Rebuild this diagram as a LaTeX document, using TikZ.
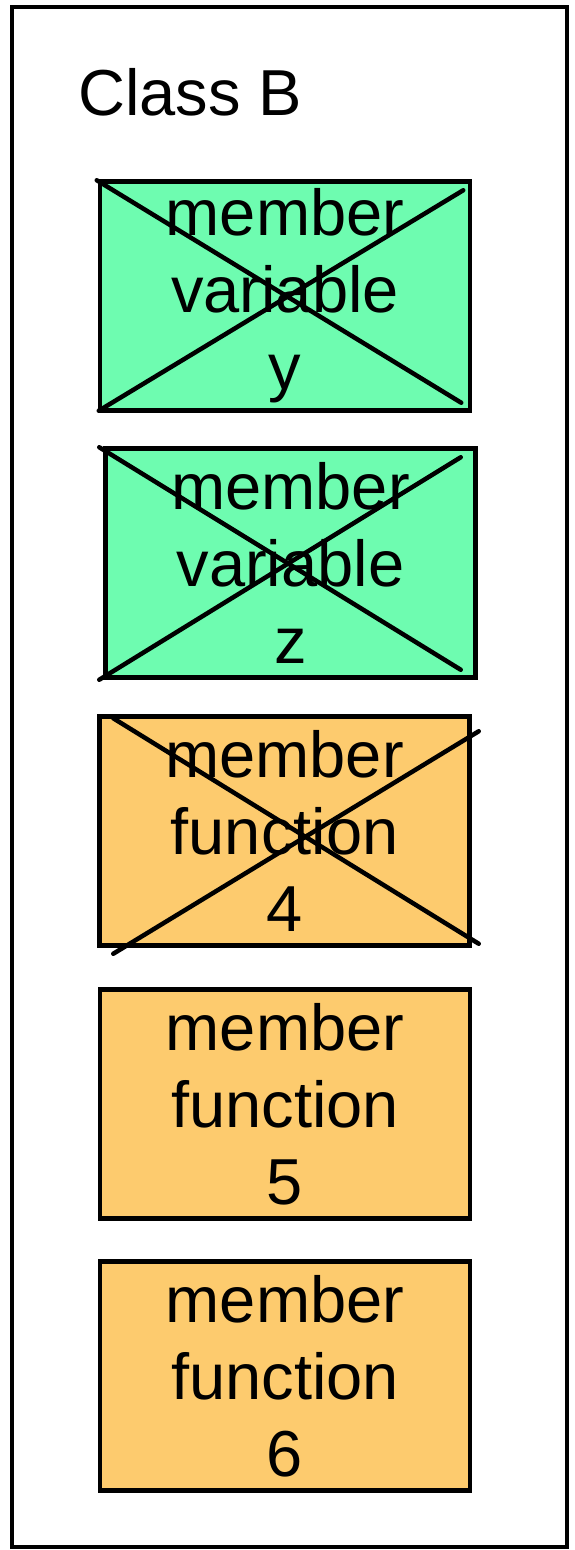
\documentclass[tikz,border=0pt]{standalone}
\usepackage{fontspec}
\setmainfont{Liberation Sans}
\usetikzlibrary{positioning}

\definecolor{varfill}{RGB}{110,252,176}
\definecolor{funfill}{RGB}{253,203,110}

\tikzset{
  membox/.style={draw, line width=4.5pt, minimum width=370pt, minimum height=229pt,
    inner sep=0pt, align=center, font=\fontsize{65}{77}\selectfont},
  strike/.style={line width=4.5pt, line cap=round}
}

\begin{document}
\begin{tikzpicture}[x=1pt, y=1pt]
\useasboundingbox (0,0) rectangle (575,-1550);
\node (outer) [draw, line width=4.5pt, minimum width=555pt, minimum height=1540pt,
  inner sep=0pt] at (289.5,-777) {};
\node (title) [anchor=base west, inner sep=0pt, font=\fontsize{65}{77}\selectfont]
  at (78,-115) {Class B};

\node (vary) [membox, fill=varfill] at (285,-296) {member\\variable\\y};
\node (varz) [membox, fill=varfill, below=33.5pt of vary, xshift=5.5pt] {member\\variable\\z};
\node (fun4) [membox, fill=funfill, below=34.5pt of varz, xshift=-6pt] {member\\function\\4};
\node (fun5) [membox, fill=funfill, below=39.5pt of fun4, xshift=0.5pt] {member\\function\\5};
\node (fun6) [membox, fill=funfill, below=38.5pt of fun5] {member\\function\\6};

% crossed out members
\draw [strike] ([shift={(-1,-1)}]vary.north west) -- ([shift={(-11,10)}]vary.south east);
\draw [strike] ([shift={(1,2)}]vary.south west) -- ([shift={(-9,-11)}]vary.north east);
\draw [strike] ([shift={(-4,-1)}]varz.north west) -- ([shift={(-17,10)}]varz.south east);
\draw [strike] ([shift={(-4,0)}]varz.south west) -- ([shift={(-17,-11)}]varz.north east);
\draw [strike] ([shift={(16,-4)}]fun4.north west) -- ([shift={(7,4)}]fun4.south east);
\draw [strike] ([shift={(16,-6)}]fun4.south west) -- ([shift={(7,-17)}]fun4.north east);
\end{tikzpicture}
\end{document}
